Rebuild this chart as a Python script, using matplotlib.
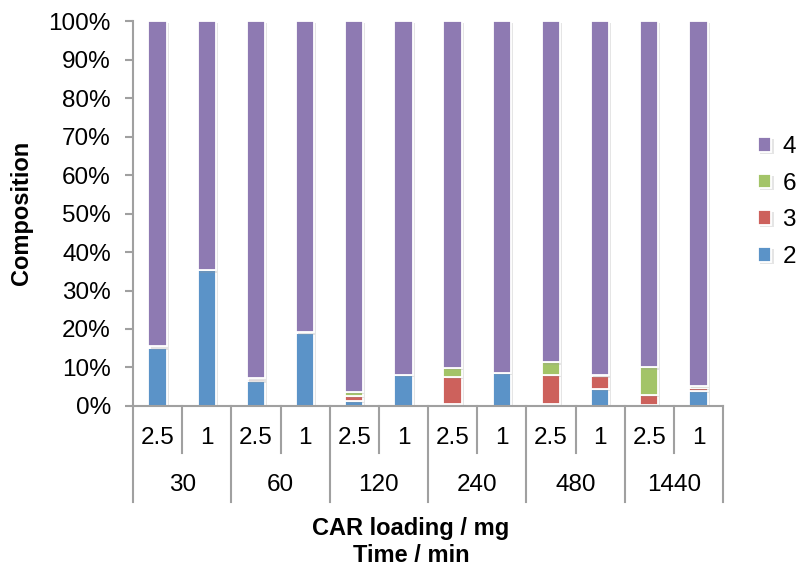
import numpy as np
import matplotlib.pyplot as plt
import matplotlib.patheffects as pe

plt.rcParams['font.family'] = ['Liberation Sans', 'DejaVu Sans']

# data (% composition)
times = ["30", "60", "120", "240", "480", "1440"]
loadings = ["2.5", "1"]
# bars go (30,2.5),(30,1),(60,2.5),(60,1),...
s2 = [15.0, 35.2, 6.6, 19.0, 1.4, 8.0, 0.6, 8.7, 0.4, 4.5, 0.3, 3.8]
s3 = [0.3, 0.0, 0.3, 0.0, 1.3, 0.0, 7.0, 0.0, 7.6, 3.2, 2.5, 0.9]
s6 = [0.3, 0.0, 0.3, 0.1, 1.0, 0.0, 2.3, 0.0, 3.3, 0.4, 7.2, 0.4]
s4 = [100 - a - b - c for a, b, c in zip(s2, s3, s6)]

colors = {"2": "#5B93C8", "3": "#CD615C", "6": "#A3C468", "4": "#8E7AB2"}
grey = "#A0A0A0"

fig = plt.figure(figsize=(8, 5.79), dpi=100)
ax = fig.add_axes([0.16625, 0.2988, 0.7375, 0.6649])

x = np.arange(len(s2))
w = 0.37
shadow = [pe.SimplePatchShadow(offset=(1.5, -1.5), shadow_rgbFace="#999999", alpha=0.25), pe.Normal()]
bottom = np.zeros(len(x))
bars = {}
for name, vals in [("2", s2), ("3", s3), ("6", s6), ("4", s4)]:
    bars[name] = ax.bar(x, vals, w, bottom=bottom, color=colors[name],
                        edgecolor="white", linewidth=1.3, label=name,
                        path_effects=shadow, zorder=2)
    bottom += np.array(vals)

ax.set_xlim(-0.5, len(x) - 0.5)
ax.set_ylim(0, 100)
ax.set_yticks(range(0, 101, 10))
ax.set_yticklabels([f"{v}%" for v in range(0, 101, 10)], fontsize=17.5)
ax.set_xticks([])
for s in ["top", "right"]:
    ax.spines[s].set_visible(False)
for s in ["left", "bottom"]:
    ax.spines[s].set_color(grey)
    ax.spines[s].set_linewidth(1.5)
ax.tick_params(axis="y", length=6, width=1.5, color=grey, pad=10)

# two-level category axis
tr = ax.get_xaxis_transform()
for i in range(len(x)):
    ax.text(i, -0.082, loadings[i % 2], transform=tr, ha="center", va="center", fontsize=17.5)
for i in range(len(x) + 1):
    edge = i - 0.5
    depth = -0.249 if i % 2 == 0 else -0.122
    ax.plot([edge, edge], [0, depth], transform=tr, color=grey, lw=1.5, clip_on=False)
for j, t in enumerate(times):
    ax.text(2 * j + 0.5, -0.205, t, transform=tr, ha="center", va="center", fontsize=17.5)

fig.text(411 / 800, 1 - 528 / 579, "CAR loading / mg", ha="center", va="center",
         fontsize=17, fontweight="bold")
fig.text(411 / 800, 1 - 556 / 579, "Time / min", ha="center", va="center",
         fontsize=17, fontweight="bold")
fig.text(22 / 800, 1 - 213 / 579, "Composition", ha="center", va="center",
         rotation=90, fontsize=17, fontweight="bold")

handles = [bars[k] for k in ["4", "6", "3", "2"]]
ax.legend(handles, ["4", "6", "3", "2"], loc="center left", bbox_to_anchor=(1.01, 0.53),
          frameon=False, fontsize=17.5, handlelength=0.55, handleheight=0.55,
          handletextpad=0.45, labelspacing=0.6, borderaxespad=0.8)

fig.savefig("out.png", dpi=100)
